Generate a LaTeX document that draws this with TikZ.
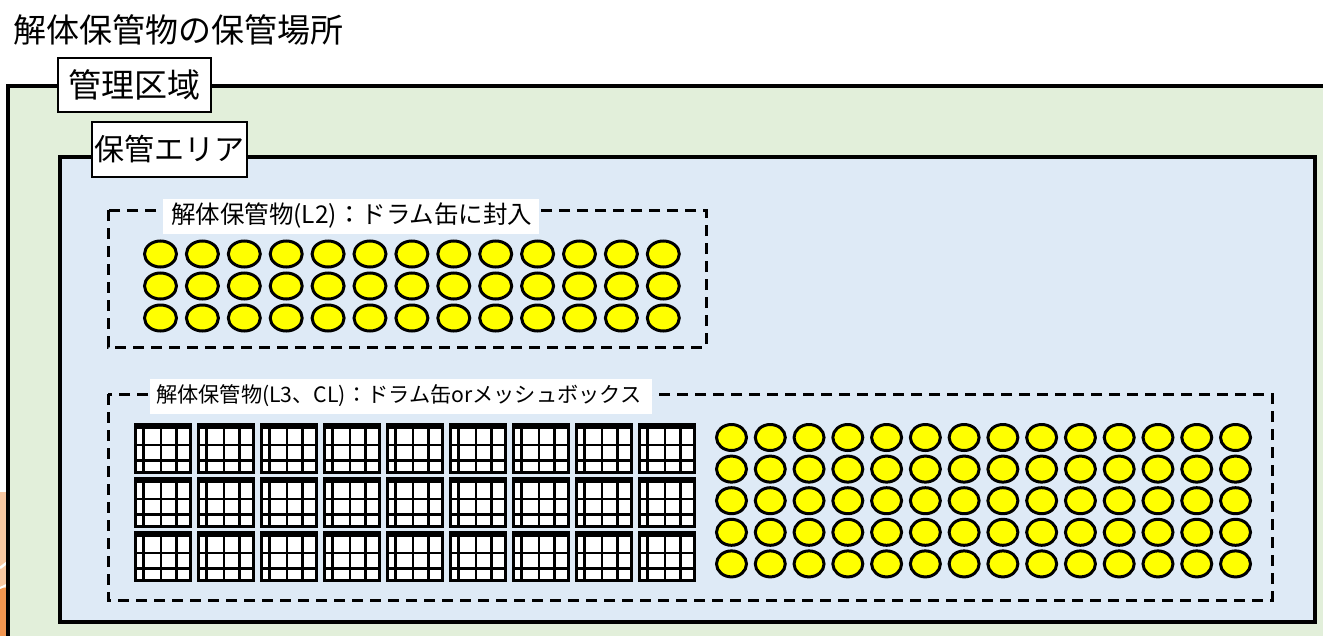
\documentclass[tikz,border=0pt]{standalone}
\usepackage{fontspec}
\setmainfont{Noto Sans CJK JP}
\usetikzlibrary{shapes.geometric}
\definecolor{zonegreen}{HTML}{E2EFDA}
\definecolor{areablue}{HTML}{DEEAF6}
\definecolor{drumyellow}{HTML}{FFFF00}
\definecolor{peach}{HTML}{F8C8A2}
\definecolor{deeporange}{HTML}{F29650}
\tikzset{
  frame/.style={draw=black,line width=3.2pt},
  tagbox/.style={draw=black,fill=white,line width=2.6pt,inner sep=0pt},
  groupbox/.style={draw=black,line width=3pt,dash pattern=on 11pt off 7pt},
  grouplabel/.style={fill=white,inner sep=0pt,anchor=west},
  drum/.style={draw=black,fill=drumyellow,line width=3pt,ellipse,inner sep=0pt},
  meshline/.style={draw=black,line width=2.6pt},
}
\begin{document}
\begin{tikzpicture}[x=1pt,y=-1pt]
\useasboundingbox (0,0) rectangle (1323,635);
\clip (0,0) rectangle (1323,635);
% orange fragment at the left edge
\fill[peach] (0,492) rectangle (6.5,590);
\fill[deeporange] (0,588) rectangle (6.5,640);
\draw[white,line width=2.5pt] (0,568) -- (6.5,563);
\draw[white,line width=2pt] (0,588) -- (6.5,585);
% title
\node[anchor=west,font=\fontsize{33}{38}\selectfont,inner sep=0pt] (title) at (13,30) {解体保管物の保管場所};
% management zone
\path[frame,fill=zonegreen] (8,86) rectangle (1345,660);
\node[tagbox,minimum width=153pt,minimum height=54pt,font=\fontsize{33}{38}\selectfont] (zone) at (134.5,85) {管理区域};
% storage area
\path[frame,fill=areablue] (60,157) rectangle (1315,622);
\node[tagbox,minimum width=155pt,minimum height=55pt,font=\fontsize{30}{34}\selectfont] (area) at (169.5,149.5) {保管エリア};
% group 1
\path[groupbox] (108,210) rectangle (706,347);
\node[grouplabel,minimum height=35pt,text width=376pt,font=\fontsize{24.5}{28}\selectfont] (lab1) at (163,216) {\hspace*{8pt}解体保管物(L2)：ドラム缶に封入};
\foreach \r in {0,1,2}{
  \foreach \c in {0,...,12}{
    \node[drum,minimum width=32pt,minimum height=26pt] (d1-\r-\c) at ({160.5+41.9*\c},{254+32*\r}) {};
  }
}
% group 2
\path[groupbox] (108,394) rectangle (1272,600);
\node[grouplabel,minimum height=35pt,text width=502pt,font=\fontsize{21.2}{26}\selectfont] (lab2) at (150,396) {\hspace*{6pt}解体保管物(L3、CL)：ドラム缶orメッシュボックス};
\foreach \r in {0,...,4}{
  \foreach \c in {0,...,13}{
    \node[drum,minimum width=30pt,minimum height=26pt] (d2-\r-\c) at ({731.5+38.77*\c},{437.5+31.6*\r}) {};
  }
}
% mesh boxes
\foreach \r in {0,1,2}{
  \foreach \c in {0,...,8}{
    \begin{scope}[shift={({135+63*\c},{424+54*\r})}]
      \fill[white] (0,0) rectangle (55,48);
      \draw[meshline] (8.3,0) -- (8.3,48) (26,0) -- (26,48) (41.7,0) -- (41.7,48);
      \draw[meshline] (0,3.4) -- (55,3.4) (0,21) -- (55,21) (0,36.7) -- (55,36.7);
      \draw[black,line width=3pt] (0,0) rectangle (55,48);
    \end{scope}
  }
}
\end{tikzpicture}
\end{document}
